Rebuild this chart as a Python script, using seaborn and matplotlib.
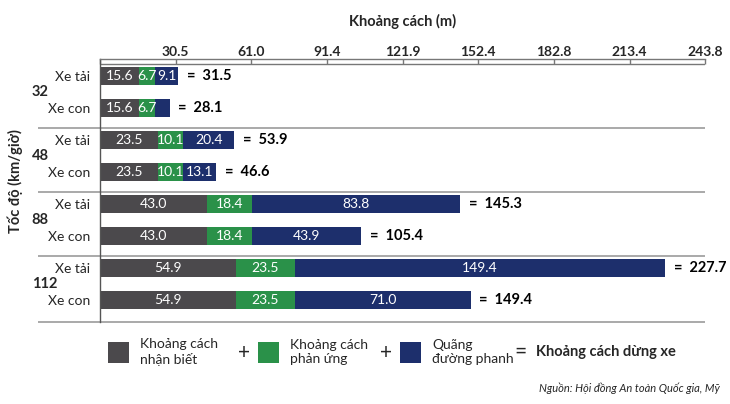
import numpy as np
import pandas as pd
import seaborn as sns
import matplotlib.pyplot as plt
from matplotlib.patches import Rectangle

# Dữ liệu
speeds = ["32", "48", "88", "112"]
vehicles = ["Xe tải", "Xe con"]
perception = [15.6, 15.6, 23.5, 23.5, 43.0, 43.0, 54.9, 54.9]
reaction = [6.7, 6.7, 10.1, 10.1, 18.4, 18.4, 23.5, 23.5]
braking = [9.1, 5.8, 20.4, 13.1, 83.8, 43.9, 149.4, 71.0]
braking_labels = ["9.1", "", "20.4", "13.1", "83.8", "43.9", "149.4", "71.0"]
totals = ["31.5", "28.1", "53.9", "46.6", "145.3", "105.4", "227.7", "149.4"]
tick_values = [0, 30.5, 61.0, 91.4, 121.9, 152.4, 182.8, 213.4, 243.8]
tick_labels = ["", "30.5", "61.0", "91.4", "121.9", "152.4", "182.8", "213.4", "243.8"]

df = pd.DataFrame({
    "row": [f"{s} {v}" for s in speeds for v in vehicles],
    "perception": perception,
    "reaction": reaction,
    "braking": braking,
})
df["p_r"] = df["perception"] + df["reaction"]
df["end"] = df["p_r"] + df["braking"]

grey = "#4b494c"
green = "#2a9149"
navy = "#1d2f6c"
sep_color = "#a3a3a3"

sns.set_style("white")
plt.rcParams["font.family"] = ["Lato", "Noto Sans", "DejaVu Sans"]

W, H = 730, 404
fig = plt.figure(figsize=(W / 100, H / 100), dpi=100)


def fx(p):
    return p / W


def fy(p):
    return 1 - p / H


ax = fig.add_axes([fx(100), fy(322), fx(705) - fx(100), fy(59) - fy(322)])

# Thanh xếp chồng (vẽ từ tổng xuống)
for col, c in [("end", navy), ("p_r", green), ("perception", grey)]:
    sns.barplot(data=df, x=col, y="row", color=c, width=0.56, saturation=1,
                errorbar=None, orient="h", linewidth=0, ax=ax)

ax.set_xlim(0, 243.8)
ax.set_ylim(7.69, -0.53)
ax.set_xlabel("")
ax.set_ylabel("")

# Nhãn giá trị trên thanh
for i, r in df.iterrows():
    ax.text(r["perception"] / 2, i, f"{r['perception']:.1f}", color="white",
            ha="center", va="center", fontsize=10)
    ax.text(r["perception"] + r["reaction"] / 2, i, f"{r['reaction']:.1f}", color="white",
            ha="center", va="center", fontsize=10)
    ax.text(r["p_r"] + r["braking"] / 2, i, braking_labels[i], color="white",
            ha="center", va="center", fontsize=10)
    ax.text(r["end"] + 3.5, i, "=  " + totals[i], color="black", ha="left", va="center",
            fontsize=10.5, fontweight="bold")

# Trục trên kiểu thước
ax.xaxis.tick_top()
ax.set_xticks(tick_values)
ax.set_xticklabels(tick_labels, fontsize=10, fontweight="bold")
ax.tick_params(axis="x", direction="in", length=3.6, width=1, color="#777777", pad=1)
ax.axhline(-0.374, color="#777777", lw=1)
ax.set_title("Khoảng cách (m)", fontsize=10.5, fontweight="bold", pad=24)

ax.set_yticks(range(len(df)))
ax.set_yticklabels(vehicles * len(speeds), fontsize=10)
ax.tick_params(axis="y", length=0, pad=7)

for side in ["right", "bottom"]:
    ax.spines[side].set_visible(False)
ax.spines["top"].set_color("#777777")
ax.spines["top"].set_linewidth(1)
ax.spines["left"].set_color("#555555")
ax.spines["left"].set_linewidth(1)

# Đường phân cách nhóm
for y in [1.625, 3.64, 5.64, 7.68]:
    ax.hlines(y, -25, 243.8, color=sep_color, lw=1.3, clip_on=False)

# Nhãn tốc độ
for k, s in enumerate(speeds):
    ax.text(-27.5, 2 * k + 0.5, s, ha="left", va="center", fontsize=10.5, fontweight="bold")

fig.text(fx(15), fy(181), "Tốc độ (km/giờ)", rotation=90, ha="center", va="center",
         fontsize=10.5, fontweight="bold")

# Chú giải
legend_items = [
    (108, grey, "Khoảng cách\nnhận biết"),
    (258, green, "Khoảng cách\nphản ứng"),
    (400, navy, "Quãng\nđường phanh"),
]
for x0, c, label in legend_items:
    fig.patches.append(Rectangle((fx(x0), fy(363)), fx(21), fy(342) - fy(363),
                                 transform=fig.transFigure, facecolor=c, edgecolor="none"))
    fig.text(fx(x0 + 32), fy(352), label, ha="left", va="center", fontsize=10,
             linespacing=1.2)
fig.text(fx(244), fy(353), "+", ha="center", va="center", fontsize=15)
fig.text(fx(386), fy(353), "+", ha="center", va="center", fontsize=15)
fig.text(fx(520), fy(352), "=", ha="center", va="center", fontsize=15)
fig.text(fx(536), fy(352), "Khoảng cách dừng xe", ha="left", va="center",
         fontsize=10.5, fontweight="bold")

fig.text(fx(720), fy(388), "Nguồn: Hội đồng An toàn Quốc gia, Mỹ", ha="right", va="center",
         fontsize=8, style="italic")

fig.savefig("out.png", dpi=100)
